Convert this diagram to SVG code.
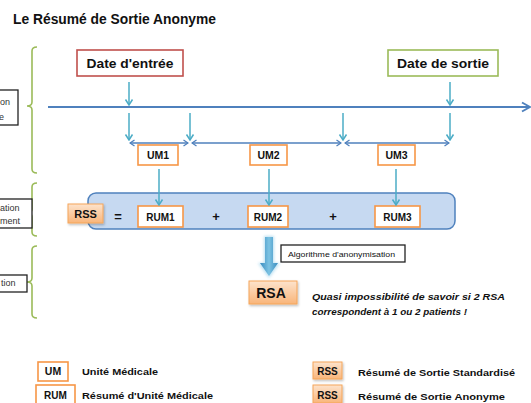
<svg xmlns="http://www.w3.org/2000/svg" width="531" height="403" viewBox="0 0 531 403">
<defs>
<style>
text{font-family:"Liberation Sans",Arial,sans-serif;fill:#111}
.b{font-weight:bold}
.brace{fill:none;stroke:#9bbb59;stroke-width:1.6}
.side{fill:#fff;stroke:#222;stroke-width:1.3}
.st{font-size:9px;fill:#333}
.orange{fill:#fff;stroke:#f79646;stroke-width:1.6}
.rss{fill:url(#gOr);stroke:#f5a65b;stroke-width:1;filter:url(#sh)}
.tarrow{stroke:#4bacc6;stroke-width:1.5;fill:none;marker-end:url(#mT)}
.um{stroke:#4f81bd;stroke-width:1.3;fill:none;marker-start:url(#mU);marker-end:url(#mU)}
.c{text-anchor:middle}
</style>
<linearGradient id="gOr" x1="0" y1="0" x2="0" y2="1"><stop offset="0" stop-color="#fde3cc"/><stop offset="1" stop-color="#f9b57a"/></linearGradient>
<linearGradient id="gArr" x1="0" y1="0" x2="1" y2="0"><stop offset="0" stop-color="#3a8cbf"/><stop offset="0.5" stop-color="#7cc3e3"/><stop offset="1" stop-color="#3a8cbf"/></linearGradient>
<marker id="mT" viewBox="-7 -5 8 10" markerWidth="8" markerHeight="10" refX="0" refY="0" orient="auto" markerUnits="userSpaceOnUse"><path d="M-5.5,-3.5 L0,0 L-5.5,3.5" fill="none" stroke="#4bacc6" stroke-width="1.5"/></marker>
<marker id="mU" viewBox="-6 -4 7 8" markerWidth="7" markerHeight="8" refX="0" refY="0" orient="auto-start-reverse" markerUnits="userSpaceOnUse"><path d="M-4.5,-3 L0,0 L-4.5,3" fill="none" stroke="#4f81bd" stroke-width="1.3"/></marker>
<marker id="mL" viewBox="-10 -6 11 12" markerWidth="11" markerHeight="12" refX="0" refY="0" orient="auto" markerUnits="userSpaceOnUse"><path d="M-8,-4.5 L0,0 L-8,4.5" fill="none" stroke="#4f81bd" stroke-width="2"/></marker>
<filter id="sh" x="-20%" y="-20%" width="150%" height="160%"><feDropShadow dx="1" dy="1.5" stdDeviation="1" flood-color="#000" flood-opacity="0.25"/></filter>
<filter id="glow" x="-100%" y="-20%" width="300%" height="140%"><feGaussianBlur stdDeviation="1.5"/></filter>
</defs>
<rect width="531" height="403" fill="#fff"/>

<text id="title" class="b" x="13" y="24" font-size="14" textLength="203" lengthAdjust="spacingAndGlyphs">Le Résumé de Sortie Anonyme</text>

<g id="braces">
<path class="brace" d="M37,47 Q32,47 32,51 L32,102 Q32,106 27,106 Q32,106 32,110 L32,169 Q32,173 37,173"/>
<path class="brace" d="M37,183 Q32,183 32,187 L32,209 Q32,213 27,213 Q32,213 32,217 L32,232 Q32,236 37,236"/>
<path class="brace" d="M37,246 Q32,246 32,250 L32,278 Q32,282 27,282 Q32,282 32,286 L32,314 Q32,318 37,318"/>
</g>

<g id="side1"><rect class="side" x="-5" y="90" width="23" height="35"/><text class="st" x="0" y="105">on</text><text class="st" x="-1" y="120">e</text></g>
<g id="side2"><rect class="side" x="-5" y="199" width="37" height="29"/><text class="st" x="0" y="211">ation</text><text class="st" x="0" y="224">ment</text></g>
<g id="side3"><rect class="side" x="-5" y="275" width="32" height="17"/><text class="st" x="1" y="286">tion</text></g>

<g id="dateEntree"><rect x="77" y="50" width="106" height="26" fill="#fff" stroke="#c0504d" stroke-width="1.6"/><text class="b c" x="130" y="68" font-size="13.5" textLength="87" lengthAdjust="spacingAndGlyphs">Date d'entrée</text></g>
<g id="dateSortie"><rect x="388" y="50" width="110" height="26" fill="#fff" stroke="#9bbb59" stroke-width="1.6"/><text class="b c" x="443" y="68" font-size="13.5" textLength="92" lengthAdjust="spacingAndGlyphs">Date de sortie</text></g>

<g id="um1"><rect class="orange" x="138" y="145" width="40" height="20"/><text class="b c" x="158" y="159" font-size="10.5">UM1</text></g>
<g id="um2"><rect class="orange" x="250" y="145" width="37" height="20"/><text class="b c" x="268.5" y="159" font-size="10.5">UM2</text></g>
<g id="um3"><rect class="orange" x="378" y="145" width="37" height="20"/><text class="b c" x="396.5" y="159" font-size="10.5">UM3</text></g>

<g id="rssGroup">
<rect x="88" y="193" width="367" height="36" rx="8" fill="#c6d9f1" stroke="#4f81bd" stroke-width="1.5"/>
<text class="b c" x="118" y="221" font-size="13">=</text>
<text class="b c" x="216" y="221" font-size="13">+</text>
<text class="b c" x="333" y="221" font-size="13">+</text>
</g>
<g id="rss"><rect class="rss" x="68" y="204" width="35" height="19"/><text class="b c" x="85.5" y="218" font-size="11">RSS</text></g>
<g id="rum1"><rect class="orange" x="138" y="206" width="45" height="21"/><text class="b c" x="160.5" y="221" font-size="10">RUM1</text></g>
<g id="rum2"><rect class="orange" x="248" y="206" width="40" height="21"/><text class="b c" x="268" y="221" font-size="10">RUM2</text></g>
<g id="rum3"><rect class="orange" x="375" y="206" width="45" height="21"/><text class="b c" x="397.5" y="221" font-size="10">RUM3</text></g>

<g id="algo"><rect x="281" y="245" width="124" height="17" fill="#fff" stroke="#222" stroke-width="1.3"/><text x="288" y="257" font-size="8" fill="#333" textLength="107" lengthAdjust="spacingAndGlyphs">Algorithme d'anonymisation</text></g>
<g id="rsa"><rect class="rss" x="249" y="281" width="48" height="23"/><text class="b c" x="271" y="298" font-size="14">RSA</text></g>

<g id="note">
<text class="b" x="312" y="300" font-size="9.5" font-style="italic" fill="#1a1a1a" textLength="193" lengthAdjust="spacingAndGlyphs">Quasi impossibilité de savoir si 2 RSA</text>
<text class="b" x="312" y="315" font-size="9.5" font-style="italic" fill="#1a1a1a" textLength="155" lengthAdjust="spacingAndGlyphs">correspondent à 1 ou 2 patients !</text>
</g>

<g id="legend">
<g id="legUM"><rect class="orange" x="38" y="362" width="30" height="19"/><text class="b c" x="53" y="375" font-size="10.5">UM</text><text class="b" x="82" y="375" font-size="9.5" fill="#222" textLength="76" lengthAdjust="spacingAndGlyphs">Unité Médicale</text></g>
<g id="legRUM"><rect class="orange" x="36" y="385" width="39" height="21"/><text class="b c" x="55.5" y="399" font-size="10">RUM</text><text class="b" x="82" y="399" font-size="9.5" fill="#222" textLength="131" lengthAdjust="spacingAndGlyphs">Résumé d'Unité Médicale</text></g>
<g id="legRSS"><rect class="rss" x="313" y="362" width="29" height="17"/><text class="b c" x="327.5" y="375" font-size="10">RSS</text><text class="b" x="358" y="376" font-size="9.5" fill="#222" textLength="157" lengthAdjust="spacingAndGlyphs">Résumé de Sortie Standardisé</text></g>
<g id="legRSA"><rect class="rss" x="313" y="385" width="29" height="18"/><text class="b c" x="327.5" y="399" font-size="10">RSS</text><text class="b" x="358" y="400" font-size="9.5" fill="#222" textLength="147" lengthAdjust="spacingAndGlyphs">Résumé de Sortie Anonyme</text></g>
</g>

<g id="connectors">
<line x1="48" y1="107" x2="530" y2="107" stroke="#4f81bd" stroke-width="2" marker-end="url(#mL)"/>
<line class="tarrow" x1="129" y1="82" x2="129" y2="105"/>
<line class="tarrow" x1="450" y1="82" x2="450" y2="105"/>
<line class="tarrow" x1="129" y1="113" x2="129" y2="140"/>
<line class="tarrow" x1="190" y1="113" x2="190" y2="140"/>
<line class="tarrow" x1="343" y1="113" x2="343" y2="140"/>
<line class="tarrow" x1="450" y1="113" x2="450" y2="140"/>
<line class="um" x1="130" y1="143" x2="188" y2="143"/>
<line class="um" x1="192" y1="143" x2="341" y2="143"/>
<line class="um" x1="345" y1="143" x2="449" y2="143"/>
<line class="tarrow" x1="159" y1="169" x2="159" y2="205"/>
<line class="tarrow" x1="269" y1="169" x2="269" y2="205"/>
<line class="tarrow" x1="396" y1="169" x2="396" y2="205"/>
<g id="bigArrow">
<polygon points="264,236 274,236 274,263 280,263 269,278 258,263 264,263" fill="#9fd3ec" opacity="0.7" filter="url(#glow)"/>
<polygon points="265,237 273,237 273,263 278,263 269,276 260,263 265,263" fill="url(#gArr)"/>
</g>
</g>
</svg>
